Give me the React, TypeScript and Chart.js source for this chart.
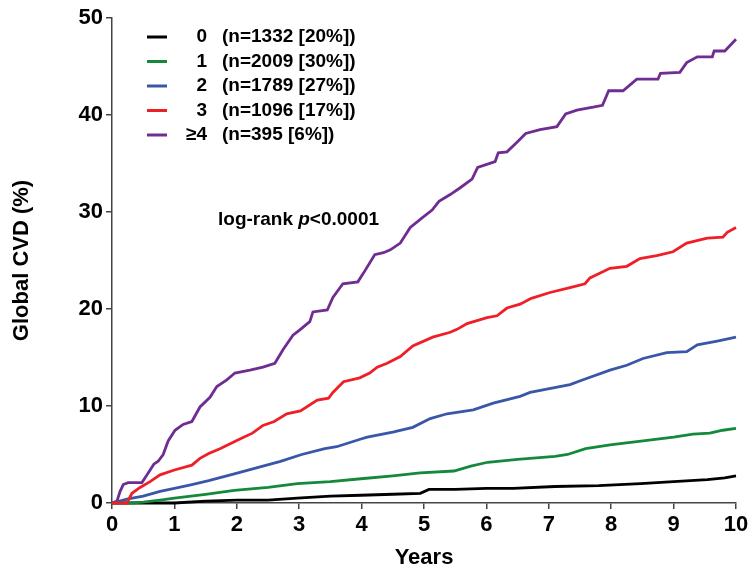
import React, { useEffect, useRef } from 'react';
import { Chart, registerables } from 'chart.js';

Chart.register(...registerables);

const FONT = '"Liberation Sans", Arial, Helvetica, sans-serif';

// Legend / groups
const groupLabels = ['0', '1', '2', '3', '≥4'];
const groupCounts = ['(n=1332 [20%])', '(n=2009 [30%])', '(n=1789 [27%])', '(n=1096 [17%])', '(n=395 [6%])'];
const groupColors = ['#000000', '#14893c', '#3a56a8', '#ee1f26', '#6f2c91'];

// Axis ticks
const xTicks = [0, 1, 2, 3, 4, 5, 6, 7, 8, 9, 10];
const yTicks = [0, 10, 20, 30, 40, 50];

// Group 0 (black)
const years0 = [0, 1.0, 1.5, 2.0, 2.5, 2.97, 3.5, 3.99, 4.5, 4.94, 5.08, 5.5, 6.0, 6.43, 7.1, 7.8, 8.47, 9.0, 9.54, 9.82, 10];
const cvd0 = [0, 0, 0.2, 0.3, 0.3, 0.5, 0.7, 0.8, 0.9, 1.0, 1.4, 1.4, 1.5, 1.5, 1.7, 1.8, 2.0, 2.2, 2.4, 2.6, 2.8];

// Group 1 (green)
const years1 = [0, 0.3, 0.5, 0.77, 1.0, 1.5, 1.96, 2.5, 2.97, 3.5, 3.99, 4.5, 4.94, 5.48, 5.75, 6.02, 6.5, 7.1, 7.3, 7.59, 7.98, 8.51, 9.0, 9.31, 9.58, 9.79, 10];
const cvd1 = [0, 0, 0.1, 0.3, 0.5, 0.9, 1.3, 1.6, 2.0, 2.2, 2.5, 2.8, 3.1, 3.3, 3.8, 4.2, 4.5, 4.8, 5.0, 5.6, 6.0, 6.4, 6.8, 7.1, 7.2, 7.5, 7.7];

// Group 2 (blue)
const years2 = [0, 0.24, 0.5, 0.77, 1.0, 1.28, 1.55, 1.96, 2.3, 2.7, 3.04, 3.41, 3.6, 3.99, 4.09, 4.5, 4.82, 5.1, 5.37, 5.79, 6.11, 6.54, 6.7, 7.34, 7.55, 7.98, 8.25, 8.51, 8.89, 9.21, 9.38, 9.7, 10];
const cvd2 = [0, 0.4, 0.7, 1.2, 1.5, 1.9, 2.3, 3.0, 3.6, 4.3, 5.0, 5.6, 5.8, 6.6, 6.8, 7.3, 7.8, 8.7, 9.2, 9.6, 10.3, 11.0, 11.4, 12.2, 12.7, 13.7, 14.2, 14.9, 15.5, 15.6, 16.3, 16.7, 17.1];

// Group 3 (red)
const years3 = [0, 0.24, 0.32, 0.45, 0.61, 0.77, 1.0, 1.28, 1.41, 1.55, 1.73, 2.05, 2.25, 2.42, 2.6, 2.8, 3.02, 3.29, 3.47, 3.54, 3.71, 3.97, 4.13, 4.25, 4.41, 4.62, 4.82, 5.14, 5.42, 5.53, 5.69, 6.01, 6.17, 6.33, 6.54, 6.72, 7.02, 7.34, 7.58, 7.66, 7.98, 8.25, 8.46, 8.73, 8.99, 9.21, 9.54, 9.79, 9.86, 10];
const cvd3 = [0, 0, 1.0, 1.6, 2.2, 2.9, 3.4, 3.9, 4.6, 5.1, 5.6, 6.6, 7.2, 8.0, 8.4, 9.2, 9.5, 10.6, 10.8, 11.4, 12.5, 12.9, 13.4, 14.0, 14.4, 15.1, 16.2, 17.1, 17.6, 17.9, 18.5, 19.1, 19.3, 20.1, 20.5, 21.1, 21.7, 22.2, 22.6, 23.2, 24.2, 24.4, 25.2, 25.5, 25.9, 26.8, 27.3, 27.4, 27.9, 28.4];

// Group >=4 (purple)
const years4 = [0, 0.08, 0.13, 0.18, 0.26, 0.48, 0.58, 0.67, 0.74, 0.82, 0.9, 1.01, 1.14, 1.28, 1.41, 1.57, 1.68, 1.84, 1.97, 2.21, 2.42, 2.61, 2.74, 2.9, 3.0, 3.17, 3.22, 3.45, 3.54, 3.7, 3.94, 4.03, 4.21, 4.35, 4.46, 4.62, 4.78, 4.97, 5.13, 5.24, 5.42, 5.58, 5.77, 5.86, 6.14, 6.19, 6.33, 6.49, 6.63, 6.86, 7.13, 7.27, 7.45, 7.71, 7.86, 7.96, 8.19, 8.41, 8.75, 8.79, 9.1, 9.21, 9.38, 9.62, 9.65, 9.82, 10];
const cvd4 = [0, 0.2, 1.2, 1.9, 2.1, 2.1, 3.1, 4.0, 4.3, 5.0, 6.4, 7.5, 8.1, 8.4, 9.9, 10.9, 12.0, 12.7, 13.4, 13.7, 14.0, 14.4, 15.8, 17.3, 17.8, 18.7, 19.7, 19.9, 21.2, 22.6, 22.8, 23.7, 25.6, 25.8, 26.1, 26.8, 28.4, 29.4, 30.2, 31.1, 31.8, 32.5, 33.4, 34.6, 35.2, 36.1, 36.2, 37.2, 38.1, 38.5, 38.8, 40.1, 40.5, 40.8, 41.0, 42.5, 42.5, 43.7, 43.7, 44.3, 44.4, 45.4, 46.0, 46.0, 46.6, 46.6, 47.8];

const seriesYears = [years0, years1, years2, years3, years4];
const seriesCvd = [cvd0, cvd1, cvd2, cvd3, cvd4];
const drawOrder = [3, 2, 1, 0, 4];

const annotationParts = [
  { text: 'log-rank ', italic: false },
  { text: 'p', italic: true },
  { text: '<0.0001', italic: false },
];

const legendPlugin = {
  id: 'customLegend',
  afterDraw(chart: any) {
    const ctx = chart.ctx as CanvasRenderingContext2D;
    ctx.save();
    ctx.font = `bold 19px ${FONT}`;
    ctx.textBaseline = 'middle';
    groupLabels.forEach((lab, i) => {
      const y = 37 + i * 24.5;
      ctx.strokeStyle = groupColors[i];
      ctx.lineWidth = 3;
      ctx.beginPath();
      ctx.moveTo(147, y);
      ctx.lineTo(167, y);
      ctx.stroke();
      ctx.fillStyle = '#000';
      ctx.textAlign = 'right';
      ctx.fillText(lab, 207, y);
      ctx.textAlign = 'left';
      ctx.fillText(groupCounts[i], 222, y);
    });
    // annotation
    let x = 218;
    const y = 220;
    ctx.textAlign = 'left';
    annotationParts.forEach((p) => {
      ctx.font = `${p.italic ? 'italic ' : ''}bold 19px ${FONT}`;
      ctx.fillText(p.text, x, y);
      x += ctx.measureText(p.text).width;
    });
    ctx.restore();
  },
};

export default function App() {
  const ref = useRef<HTMLCanvasElement | null>(null);

  useEffect(() => {
    if (!ref.current) return;
    const datasets = seriesYears.map((ys, i) => ({
      label: groupLabels[i],
      data: ys.map((t, j) => ({ x: t, y: seriesCvd[i][j] })),
      borderColor: groupColors[i],
      backgroundColor: groupColors[i],
      borderWidth: 2.8,
      pointRadius: 0,
      tension: 0,
      fill: false,
      clip: false as any,
      order: drawOrder[i],
    }));
    const chart = new Chart(ref.current, {
      type: 'line',
      data: { datasets },
      plugins: [legendPlugin],
      options: {
        animation: false,
        responsive: false,
        devicePixelRatio: 1,
        layout: { padding: { top: 18, right: 18, left: 0, bottom: 0 } },
        plugins: { legend: { display: false }, tooltip: { enabled: false } },
        scales: {
          x: {
            type: 'linear',
            min: 0,
            max: 10,
            afterFit: (s: any) => { s.height = 71; },
            afterBuildTicks: (s: any) => { s.ticks = xTicks.map((v) => ({ value: v })); },
            ticks: { color: '#000', padding: 3, font: { family: FONT, size: 22, weight: 'bold' } },
            grid: { display: true, drawOnChartArea: false, drawTicks: true, tickLength: 6, color: '#444', lineWidth: 1.5 },
            border: { display: true, color: '#444', width: 1.5 },
            title: { display: true, text: 'Years', color: '#000', padding: { top: 0, bottom: 3 }, font: { family: FONT, size: 22, weight: 'bold' } },
          },
          y: {
            type: 'linear',
            min: 0,
            max: 50,
            afterFit: (s: any) => { s.width = 112; },
            afterBuildTicks: (s: any) => { s.ticks = yTicks.map((v) => ({ value: v })); },
            ticks: { color: '#000', padding: 3, font: { family: FONT, size: 22, weight: 'bold' } },
            grid: { display: true, drawOnChartArea: false, drawTicks: true, tickLength: 6, color: '#444', lineWidth: 1.5 },
            border: { display: true, color: '#444', width: 1.5 },
            title: { display: true, text: 'Global CVD (%)', color: '#000', padding: { top: 9, bottom: 0 }, font: { family: FONT, size: 22, weight: 'bold' } },
          },
        },
      } as any,
    });
    return () => chart.destroy();
  }, []);

  return (
    <div style={{ position: 'absolute', left: 0, top: 0, width: 754, height: 574, background: '#fff' }}>
      <canvas ref={ref} width={754} height={574} style={{ width: 754, height: 574, display: 'block' }} />
    </div>
  );
}
